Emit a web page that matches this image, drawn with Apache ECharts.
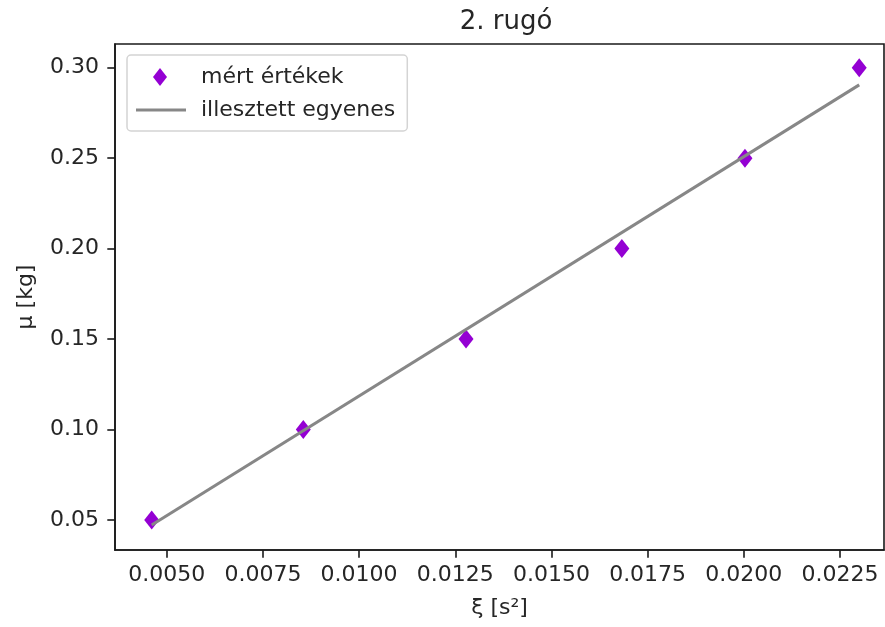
<!DOCTYPE html>
<html>
<head>
<meta charset="utf-8">
<script src="https://cdn.jsdelivr.net/npm/echarts@6/dist/echarts.min.js"></script>
<style>html,body{margin:0;padding:0;background:#fff}#c{width:885px;height:627px}</style>
</head>
<body>
<div id="c"></div>
<script>
const xi = [0.00461, 0.00855, 0.01278, 0.01683, 0.02003, 0.02300];
const mu = [0.05, 0.10, 0.15, 0.20, 0.25, 0.30];
const fitX = [0.00461, 0.02300];
const fitY = [0.0472, 0.2905];
const xTicks = [0.005, 0.0075, 0.010, 0.0125, 0.015, 0.0175, 0.020, 0.0225];
const yTicks = [0.05, 0.10, 0.15, 0.20, 0.25, 0.30];
const titleText = '2. rugó';
const xName = 'ξ [s²]';
const yName = 'μ [kg]';
const seriesNames = ['mért értékek', 'illesztett egyenes'];

const F = 'DejaVu Sans';
const TC = '#262626';
const chart = echarts.init(document.getElementById('c'), null, {renderer: 'canvas'});
chart.setOption({
  animation: false,
  backgroundColor: '#fff',
  title: {
    text: titleText, left: 501, top: 4, textAlign: 'center',
    textStyle: {fontFamily: F, fontSize: 26, fontWeight: 'normal', color: TC}
  },
  grid: {left: 115, right: 1, top: 44, bottom: 77, show: true, borderColor: '#1a1a1a', borderWidth: 1.6, containLabel: false},
  legend: {
    orient: 'vertical', left: 127, top: 55,
    padding: [11, 12, 10, 6],
    itemWidth: 63, itemHeight: 22, itemGap: 11,
    borderColor: '#d4d4d4', borderWidth: 1.5, borderRadius: 4, backgroundColor: '#fff',
    textStyle: {fontFamily: F, fontSize: 22, color: TC, lineHeight: 22},
    data: [
      {name: seriesNames[0], icon: 'path://M0,0 M63,22 M27,2 L34,11 L27,20 L20,11 Z'},
      {name: seriesNames[1], icon: 'path://M0,0 M63,22 M3,9.5 L53,9.5 L53,12.5 L3,12.5 Z'}
    ]
  },
  xAxis: {
    type: 'value', min: 0.003656, max: 0.023644,
    name: xName, nameLocation: 'middle', nameGap: 47,
    nameTextStyle: {fontFamily: F, fontSize: 22, color: TC},
    axisLine: {show: true, lineStyle: {color: '#1a1a1a', width: 1.6}},
    axisTick: {show: true, customValues: xTicks, length: 7.7, lineStyle: {color: '#1a1a1a', width: 1.6}},
    axisLabel: {customValues: xTicks, margin: 14, fontFamily: F, fontSize: 22, color: TC,
      formatter: v => v.toFixed(4)},
    splitLine: {show: false}
  },
  yAxis: {
    type: 'value', min: 0.03342, max: 0.3131,
    name: yName, nameLocation: 'middle', nameGap: 78, nameRotate: 90,
    nameTextStyle: {fontFamily: F, fontSize: 22, color: TC},
    axisLine: {show: true, lineStyle: {color: '#1a1a1a', width: 1.6}},
    axisTick: {show: true, customValues: yTicks, length: 7.7, lineStyle: {color: '#1a1a1a', width: 1.6}},
    axisLabel: {customValues: yTicks, margin: 16, fontFamily: F, fontSize: 22, color: TC,
      formatter: v => v.toFixed(2)},
    splitLine: {show: false}
  },
  series: [
    {
      name: seriesNames[0], type: 'scatter',
      data: xi.map((x, i) => [x, mu[i]]),
      symbol: 'diamond', symbolSize: [15, 19],
      itemStyle: {color: '#9400D3', opacity: 1},
      z: 2
    },
    {
      name: seriesNames[1], type: 'line',
      data: fitX.map((x, i) => [x, fitY[i]]),
      showSymbol: false, symbol: 'none',
      color: '#878787',
      lineStyle: {color: '#878787', width: 3},
      itemStyle: {color: '#878787'},
      z: 3
    }
  ]
});
</script>
</body>
</html>
